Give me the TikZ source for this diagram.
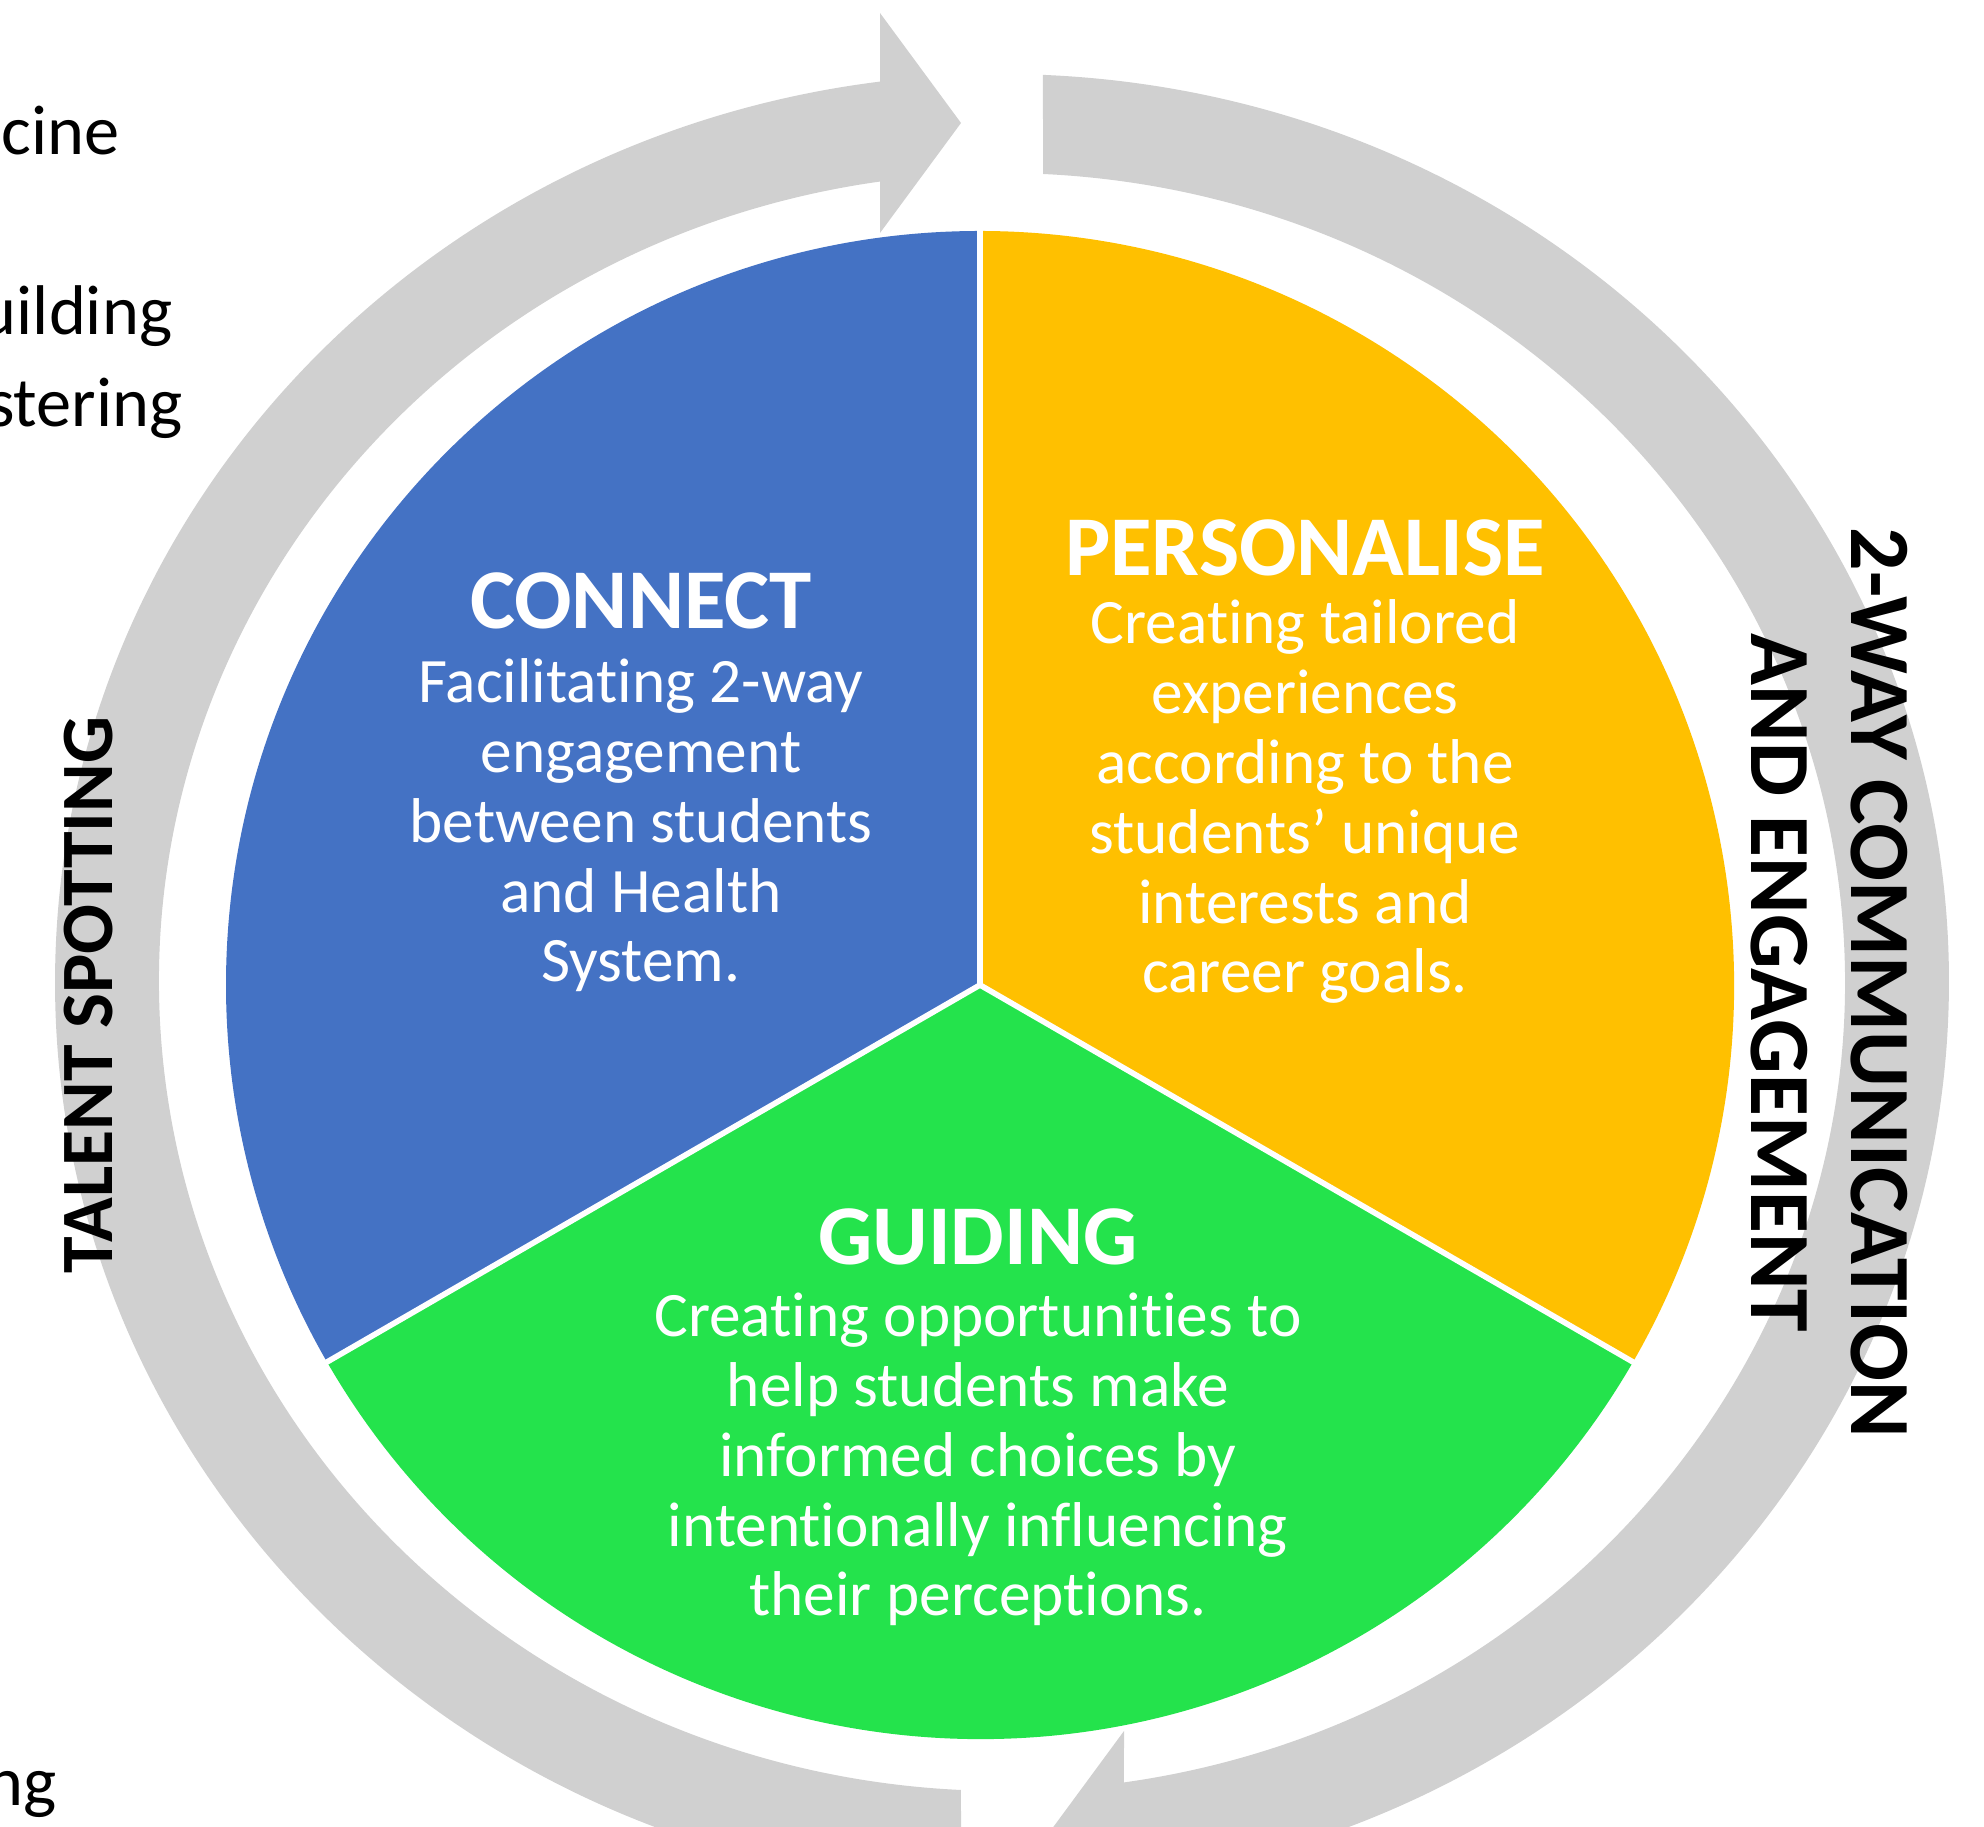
\documentclass[tikz,border=0pt]{standalone}
\usepackage{fontspec}
\setmainfont{Carlito}[Ligatures=NoCommon]
\definecolor{cycBlue}{HTML}{4472C4}
\definecolor{cycGold}{HTML}{FFC000}
\definecolor{cycGreen}{HTML}{24E34C}
\definecolor{cycGray}{HTML}{D0D0D0}
\tikzset{
  cyc ring/.style={fill=cycGray},
  cyc gap/.style={draw=white, line width=1.6pt},
  cyc head/.style={text=white, font=\bfseries\fontsize{24.2}{29}\selectfont,
    inner sep=0pt, anchor=base},
  cyc body/.style={text=white, align=center, inner sep=0pt, anchor=base,
    font=\fontsize{18}{19.9}\selectfont},
  cyc side/.style={text=black, font=\bfseries\fontsize{21}{25}\selectfont,
    inner sep=0pt, anchor=base},
  cyc cut/.style={text=black, font=\fontsize{20}{24}\selectfont,
    inner sep=0pt, anchor=base east}
}

\begin{document}
\begin{tikzpicture}[x=0.01cm,y=0.01cm]
  \useasboundingbox (0,0) rectangle (1984,1827);
  \begin{scope}[shift={(1002,845)}]
    \fill[cyc ring] (267.21:843 and 809) -- (267.52:947 and 908)
      arc[start angle=267.52, end angle=97.40, x radius=947, y radius=908]
      -- (-122,969) -- (-41,859) -- (-122,749) -- (98.32:843 and 809)
      arc[start angle=98.32, end angle=267.21, x radius=843, y radius=809] -- cycle;
    \fill[cyc ring] (87.21:843 and 809) -- (87.52:947 and 908)
      arc[start angle=87.52, end angle=-82.60, x radius=947, y radius=908]
      -- (122,-969) -- (41,-859) -- (122,-749) -- (-81.68:843 and 809)
      arc[start angle=-81.68, end angle=87.21, x radius=843, y radius=809] -- cycle;
  \end{scope}
  \coordinate (pie) at (980,842);
  \fill[cycBlue] (pie) -- ++(90:754) arc[start angle=90, end angle=210, radius=754] -- cycle;
  \fill[cycGold] (pie) -- ++(-30:754) arc[start angle=-30, end angle=90, radius=754] -- cycle;
  \fill[cycGreen] (pie) -- ++(210:754) arc[start angle=210, end angle=330, radius=754] -- cycle;
  \foreach \a in {90,210,330}
    \draw[cyc gap] (pie) -- ++(\a:756);

  \node[cyc head] (connect) at (641,1198) {CONNECT};
  \node[cyc body] (connect text) at (641,845)
    {Facilitating 2-way\\engagement\\between students\\and Health\\System.};
  \node[cyc head] (personalise) at (1305,1251) {PERSONALISE};
  \node[cyc body] (personalise text) at (1305,834)
    {Creating tailored\\experiences\\according to the\\students’ unique\\interests and\\career goals.};
  \node[cyc head] (guiding) at (978,562) {GUIDING};
  \node[cyc body] (guiding text) at (978,211)
    {Creating opportunities to\\help students make\\informed choices by\\intentionally influencing\\their perceptions.};

  \node[cyc side, rotate=90] (talent) at (113,832) {TALENT SPOTTING};
  \node[cyc side, rotate=-90, align=center,
    font=\bfseries\fontsize{24.4}{28.7}\selectfont] (comm) at (1751,844)
    {2-WAY COMMUNICATION\\AND ENGAGEMENT};

  \node[cyc cut] (cine) at (120,1672) {cine};
  \node[cyc cut] (building) at (173,1492) {uilding};
  \node[cyc cut] (fostering) at (183,1400) {stering};
  \node[cyc cut] (ng) at (57,21) {ng};
\end{tikzpicture}
\end{document}
